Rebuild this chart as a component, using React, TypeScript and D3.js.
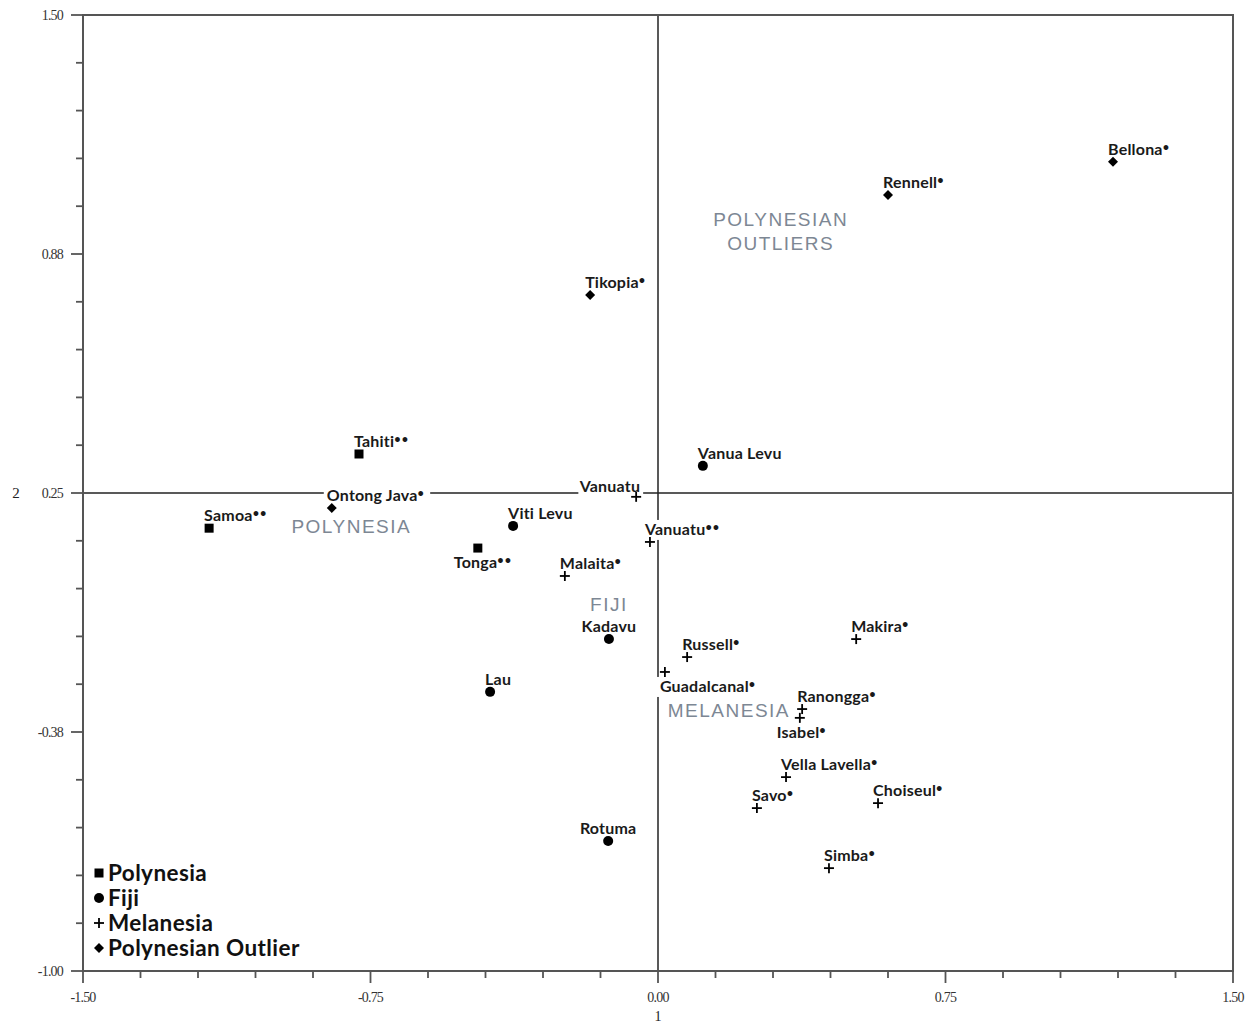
import React from "react";
import * as d3 from "d3";

type Pt = { name: string; stars: number; x: number; y: number; pos: string };

const groups = ["Polynesia", "Fiji", "Melanesia", "Polynesian Outlier"];

const polynesia: Pt[] = [
  { name: "Tahiti", stars: 2, x: -0.78, y: 0.352, pos: "tl" },
  { name: "Samoa", stars: 2, x: -1.171, y: 0.158, pos: "tl" },
  { name: "Tonga", stars: 2, x: -0.47, y: 0.106, pos: "below" },
];

const fiji: Pt[] = [
  { name: "Vanua Levu", stars: 0, x: 0.117, y: 0.321, pos: "tl" },
  { name: "Viti Levu", stars: 0, x: -0.378, y: 0.164, pos: "tl" },
  { name: "Kadavu", stars: 0, x: -0.128, y: -0.132, pos: "center" },
  { name: "Lau", stars: 0, x: -0.438, y: -0.27, pos: "tl" },
  { name: "Rotuma", stars: 0, x: -0.13, y: -0.66, pos: "center" },
];

const melanesia: Pt[] = [
  { name: "Vanuatu", stars: 0, x: -0.057, y: 0.24, pos: "left" },
  { name: "Vanuatu", stars: 2, x: -0.021, y: 0.122, pos: "tl" },
  { name: "Malaita", stars: 1, x: -0.243, y: 0.033, pos: "tl" },
  { name: "Russell", stars: 1, x: 0.076, y: -0.179, pos: "tl" },
  { name: "Guadalcanal", stars: 1, x: 0.018, y: -0.218, pos: "below" },
  { name: "Makira", stars: 1, x: 0.517, y: -0.132, pos: "tl" },
  { name: "Ranongga", stars: 1, x: 0.376, y: -0.315, pos: "tl" },
  { name: "Isabel", stars: 1, x: 0.37, y: -0.338, pos: "belowleft" },
  { name: "Vella Lavella", stars: 1, x: 0.334, y: -0.493, pos: "tl" },
  { name: "Savo", stars: 1, x: 0.258, y: -0.574, pos: "tl" },
  { name: "Choiseul", stars: 1, x: 0.574, y: -0.561, pos: "tl" },
  { name: "Simba", stars: 1, x: 0.446, y: -0.731, pos: "tl" },
];

const outliers: Pt[] = [
  { name: "Bellona", stars: 1, x: 1.187, y: 1.116, pos: "tl" },
  { name: "Rennell", stars: 1, x: 0.6, y: 1.029, pos: "tl" },
  { name: "Tikopia", stars: 1, x: -0.177, y: 0.768, pos: "tl" },
  { name: "Ontong Java", stars: 1, x: -0.851, y: 0.211, pos: "tl" },
];

const regionLabels = [
  { lines: ["POLYNESIA"], x: -0.8, y: 0.145 },
  { lines: ["FIJI"], x: -0.128, y: -0.059 },
  { lines: ["MELANESIA"], x: 0.185, y: -0.336 },
  { lines: ["POLYNESIAN", "OUTLIERS"], x: 0.32, y: 0.948 },
];

const xTickLabels = [-1.5, -0.75, 0, 0.75, 1.5];
const yTickLabels = [1.5, 0.875, 0.25, -0.375, -1.0];
const yTickText = ["1.50", "0.88", "0.25", "-0.38", "-1.00"];

const W = 1255;
const H = 1023;
const L = 83, R = 1233, T = 15, B = 971;

const xs = d3.scaleLinear().domain([-1.5, 1.5]).range([L, R]);
const ys = d3.scaleLinear().domain([-1.0, 1.5]).range([B, T]);

const labelFont = "Lato, 'Open Sans', sans-serif";

function Marker({ kind, cx, cy }: { kind: number; cx: number; cy: number }) {
  if (kind === 0) return <rect x={cx - 4.5} y={cy - 4.5} width={9} height={9} fill="#000" />;
  if (kind === 1) return <circle cx={cx} cy={cy} r={5} fill="#000" />;
  if (kind === 2)
    return (
      <g stroke="#000" strokeWidth={1.8}>
        <line x1={cx - 5} x2={cx + 5} y1={cy} y2={cy} />
        <line x1={cx} x2={cx} y1={cy - 5} y2={cy + 5} />
      </g>
    );
  return <path d={`M${cx},${cy - 5}L${cx + 5},${cy}L${cx},${cy + 5}L${cx - 5},${cy}Z`} fill="#000" />;
}

function Label({ p }: { p: Pt }) {
  const cx = xs(p.x), cy = ys(p.y);
  const fs = 16;
  const approxW = p.name.length * 8.4 + p.stars * 8;
  let tx = cx - 5, ty = cy - 7, anchor: "start" | "middle" | "end" = "start";
  if (p.pos === "center") { tx = cx; ty = cy - 7; anchor = "middle"; }
  if (p.pos === "left") { tx = cx + 4; ty = cy - 5; anchor = "end"; }
  if (p.pos === "below") { tx = cx - 5; ty = cy + 20; if (p.name === "Tonga") tx = cx - 24; }
  if (p.pos === "belowleft") { tx = cx - 23; ty = cy + 20; }
  let bx = tx - 3;
  if (anchor === "middle") bx = tx - approxW / 2 - 3;
  if (anchor === "end") bx = tx - approxW - 3;
  return (
    <g>
      <rect x={bx} y={ty - 15} width={approxW + 6} height={20} fill="#fff" />
      <text x={tx} y={ty} textAnchor={anchor} fontFamily={labelFont} fontWeight={700} fontSize={fs} fill="#1a1a1a" letterSpacing={0.2}>
        {p.name}
        {p.stars > 0 && (
          <tspan fontSize={11} dy={-4} letterSpacing={1}>{"•".repeat(p.stars)}</tspan>
        )}
      </text>
    </g>
  );
}

export default function App() {
  const series = [polynesia, fiji, melanesia, outliers];
  const xMinor = d3.range(0, 21).map((i) => -1.5 + i * 0.15);
  const yMinor = d3.range(0, 21).map((i) => -1.0 + i * 0.125);
  const axisColor = "#555";
  const tickFont = "'Liberation Serif', 'DejaVu Serif', serif";
  return (
    <svg width={W} height={H} style={{ position: "absolute", left: 0, top: 0, background: "#fff" }}>
      <rect x={0} y={0} width={W} height={H} fill="#fff" />
      <line x1={L} x2={R} y1={ys(0.25)} y2={ys(0.25)} stroke="#222" strokeWidth={1.5} />
      <line x1={xs(0)} x2={xs(0)} y1={T} y2={B} stroke="#222" strokeWidth={1.5} />
      {regionLabels.map((r, i) =>
        r.lines.map((ln, j) => (
          <text key={`${i}-${j}`} x={xs(r.x)} y={ys(r.y) + j * 24} textAnchor="middle" fontFamily="'Liberation Sans', Arial, sans-serif" fontSize={19} letterSpacing={1.5} fill="#7d8794">
            {ln}
          </text>
        ))
      )}
      {series.map((s, k) => s.map((p, i) => <Label key={`l${k}-${i}`} p={p} />))}
      {series.map((s, k) => s.map((p, i) => <Marker key={`m${k}-${i}`} kind={k} cx={xs(p.x)} cy={ys(p.y)} />))}
      <rect x={L} y={T} width={R - L} height={B - T} fill="none" stroke={axisColor} strokeWidth={2} />
      {yMinor.map((v, i) => (
        <line key={`yt${i}`} x1={L} x2={i % 5 === 0 ? L - 12 : L - 7} y1={ys(v)} y2={ys(v)} stroke={axisColor} strokeWidth={1.8} />
      ))}
      {xMinor.map((v, i) => (
        <line key={`xt${i}`} y1={B} y2={i % 5 === 0 ? B + 12 : B + 7} x1={xs(v)} x2={xs(v)} stroke={axisColor} strokeWidth={1.8} />
      ))}
      {yTickLabels.map((v, i) => (
        <text key={`yl${i}`} x={L - 20} y={ys(v) + 5} textAnchor="end" fontFamily={tickFont} fontSize={14} fill="#333" letterSpacing={-0.8}>
          {yTickText[i]}
        </text>
      ))}
      {xTickLabels.map((v, i) => (
        <text key={`xl${i}`} x={xs(v)} y={B + 31} textAnchor="middle" fontFamily={tickFont} fontSize={14} fill="#333" letterSpacing={-0.8}>
          {v.toFixed(2)}
        </text>
      ))}
      <text x={xs(0)} y={1021} textAnchor="middle" fontFamily={tickFont} fontSize={14} fill="#222">1</text>
      <text x={16} y={ys(0.25) + 5} textAnchor="middle" fontFamily={tickFont} fontSize={15} fill="#222">2</text>
      {groups.map((g, i) => (
        <g key={`lg${i}`}>
          <Marker kind={i} cx={99} cy={873 + i * 25} />
          <text x={108} y={873 + i * 25 + 8} fontFamily={labelFont} fontWeight={700} fontSize={22.5} fill="#111" letterSpacing={0.4}>
            {g}
          </text>
        </g>
      ))}
    </svg>
  );
}
